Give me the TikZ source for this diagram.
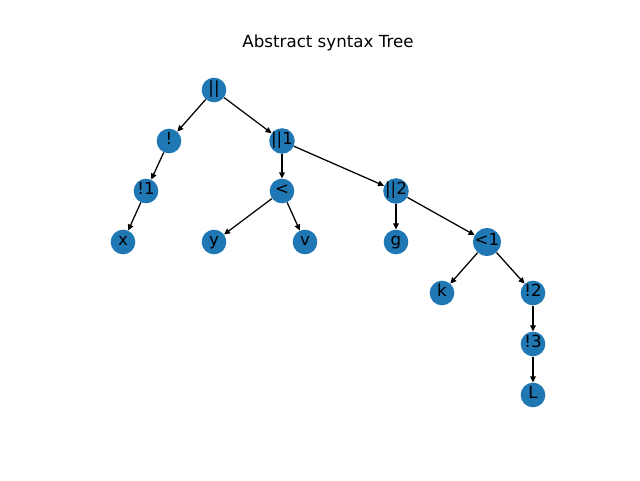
\documentclass[tikz,border=0pt]{standalone}
\usepackage{fontspec}
\setmainfont{DejaVu Sans}
\usetikzlibrary{arrows.meta}
\definecolor{tabblue}{HTML}{1F77B4}
\begin{document}
\begin{tikzpicture}[x=0.75pt,y=-0.75pt,
  vtx/.style={circle,fill=tabblue,minimum size=18.5pt,inner sep=0pt,text height=0.76em,text depth=0.236em,font=\fontsize{12.5}{14}\selectfont},
  edge/.style={-{Triangle[length=4.5pt,width=4.2pt]},line width=0.95pt,black}]
\useasboundingbox (0,0) rectangle (640,480);
\node[font=\fontsize{12.5}{14}\selectfont] (title) at (328,43) {Abstract syntax Tree};
\node[vtx] (or) at (214,90) {||};
\node[vtx] (not) at (169,141) {!};
\node[vtx] (or1) at (282,141) {||1};
\node[vtx] (not1) at (146,191) {!1};
\node[vtx] (lt) at (282,191) {<};
\node[vtx] (or2) at (396,191) {||2};
\node[vtx] (x) at (123,242) {x};
\node[vtx] (y) at (214,242) {y};
\node[vtx] (v) at (305,242) {v};
\node[vtx] (g) at (396,242) {g};
\node[vtx] (lt1) at (487,242) {<1};
\node[vtx] (k) at (442,293) {k};
\node[vtx] (not2) at (533,293) {!2};
\node[vtx] (not3) at (533,344) {!3};
\node[vtx] (L) at (533,395) {L};
\draw[edge] (or) -- (not);
\draw[edge] (or) -- (or1);
\draw[edge] (not) -- (not1);
\draw[edge] (not1) -- (x);
\draw[edge] (or1) -- (lt);
\draw[edge] (or1) -- (or2);
\draw[edge] (lt) -- (y);
\draw[edge] (lt) -- (v);
\draw[edge] (or2) -- (g);
\draw[edge] (or2) -- (lt1);
\draw[edge] (lt1) -- (k);
\draw[edge] (lt1) -- (not2);
\draw[edge] (not2) -- (not3);
\draw[edge] (not3) -- (L);
\end{tikzpicture}
\end{document}
